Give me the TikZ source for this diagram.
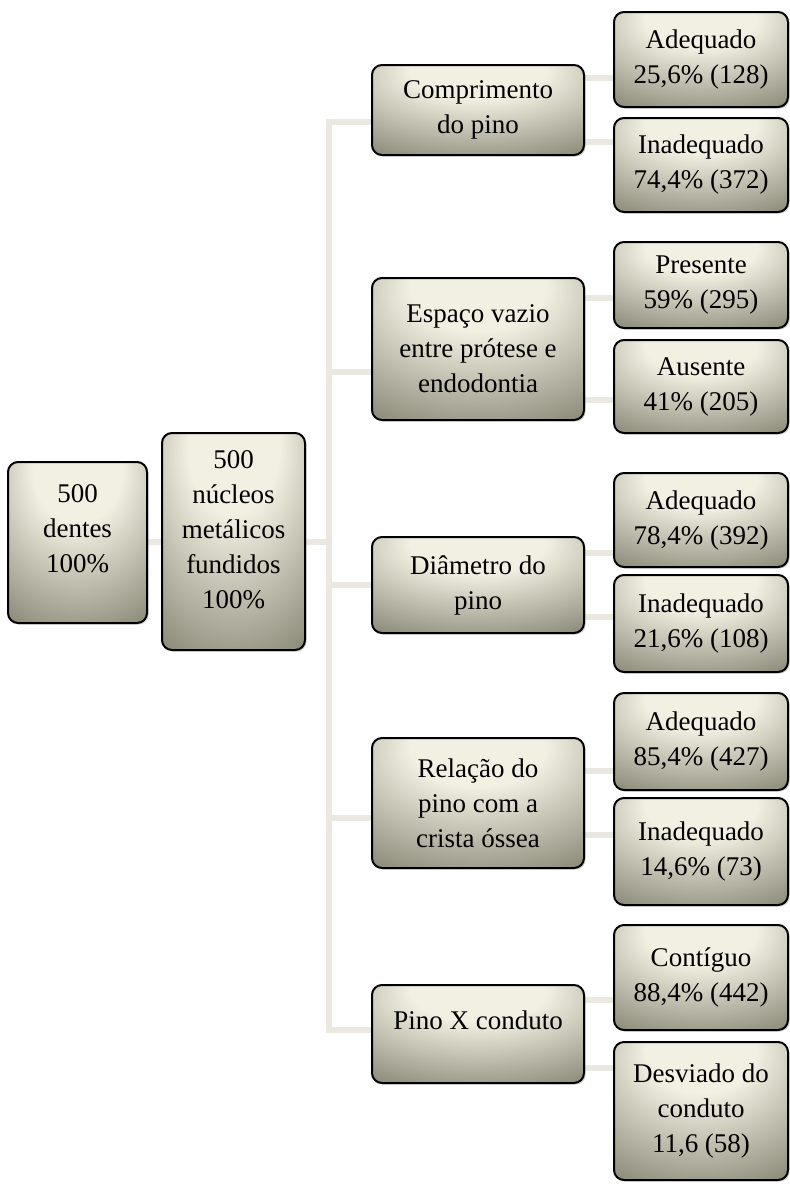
\documentclass[tikz,border=0pt]{standalone}
\usepackage{fontspec}
\setmainfont{Liberation Serif}
\usepackage{xcolor}
\usetikzlibrary{positioning, shadows, backgrounds}

\definecolor{boxlight}{RGB}{242,240,226}
\definecolor{boxdark}{RGB}{120,118,100}
\definecolor{linklight}{RGB}{234,232,224}
\pgfdeclareradialshading{bevel}{\pgfpoint{0bp}{28bp}}{color(0bp)=(boxlight); color(16bp)=(boxlight); color(50bp)=(boxdark); color(80bp)=(boxdark)}

\begin{document}
\begin{tikzpicture}[
    x=0.5pt, y=-0.5pt,
    every node/.style={font=\fontsize{13.5}{17.5}\selectfont, align=center},
    box/.style={rectangle, draw, line width=1pt, rounded corners=5pt, shading=bevel, inner sep=2pt,
        drop shadow={shadow xshift=0.8pt, shadow yshift=-0.8pt, opacity=0.35}},
    midbox/.style={box, minimum width=106pt},
    leafbox/.style={box, minimum width=87pt},
    conn/.style={line width=3pt, draw=linklight},
]
\useasboundingbox (0,0) rectangle (790,1184);

% Root
\node[box, minimum width=69.5pt, minimum height=80.5pt, text depth=14pt] (teeth) at (77.5,542.5) {500\\dentes\\100\%};
\node[box, minimum width=71.5pt, minimum height=108.5pt, text depth=12pt] (cores) at (233.5,541.5) {500\\núcleos\\metálicos\\fundidos\\100\%};

% Criteria
\node[midbox, minimum height=45pt] (length) at (478,110) {Comprimento\\do pino};
\node[midbox, minimum height=71pt] (gap) at (478,349) {Espaço vazio\\entre prótese e\\endodontia};
\node[midbox, minimum height=48pt] (diam) at (478,585) {Diâmetro do\\pino};
\node[midbox, minimum height=65pt] (crest) at (478,803) {Relação do\\pino com a\\crista óssea};
\node[midbox, minimum height=49pt, text depth=14pt] (canal) at (478,1034) {Pino X conduto};

% Results
\node[leafbox, minimum height=47.5pt] (lenok) at (701,59.5) {Adequado\\25,6\% (128)};
\node[leafbox, minimum height=47pt] (lenbad) at (701,165) {Inadequado\\74,4\% (372)};
\node[leafbox, minimum height=43pt] (gappres) at (701,285) {Presente\\59\% (295)};
\node[leafbox, minimum height=46.5pt] (gapabs) at (701,386.5) {Ausente\\41\% (205)};
\node[leafbox, minimum height=47pt] (diamok) at (701,520) {Adequado\\78,4\% (392)};
\node[leafbox, minimum height=48.5pt] (diambad) at (701,623.5) {Inadequado\\21,6\% (108)};
\node[leafbox, minimum height=48.5pt] (crestok) at (701,741.5) {Adequado\\85,4\% (427)};
\node[leafbox, minimum height=53.5pt] (crestbad) at (701,851.5) {Inadequado\\14,6\% (73)};
\node[leafbox, minimum height=52.5pt] (canalok) at (701,977.5) {Contíguo\\88,4\% (442)};
\node[leafbox, minimum height=69pt] (canaldev) at (701,1111) {Desviado do\\conduto\\11,6 (58)};

% Connectors
\coordinate (spine) at (329,541);
\begin{scope}[on background layer]
\draw[conn] (teeth) -- (cores);
\draw[conn] (cores.east) -- (cores.east -| spine);
\foreach \m/\d in {length/-6, gap/-11.5, diam/0, crest/-7.5, canal/2} {
    \coordinate (\m-in) at ([yshift=\d pt]\m.west);
    \draw[conn] (\m-in) -- (\m-in -| spine);
}
\draw[conn, line cap=rect] (length-in -| spine) -- (canal-in -| spine);
\foreach \m/\a/\b/\d in {length/lenok/lenbad/16, gap/gappres/gapabs/25.5,
        diam/diamok/diambad/16, crest/crestok/crestbad/16, canal/canalok/canaldev/17} {
    \coordinate (\m-up) at ([yshift=\d pt]\m.east);
    \coordinate (\m-down) at ([yshift=-\d pt]\m.east);
    \draw[conn] (\m-up) -- (\m-up -| \a.west);
    \draw[conn] (\m-down) -- (\m-down -| \b.west);
}
\end{scope}
\end{tikzpicture}
\end{document}
